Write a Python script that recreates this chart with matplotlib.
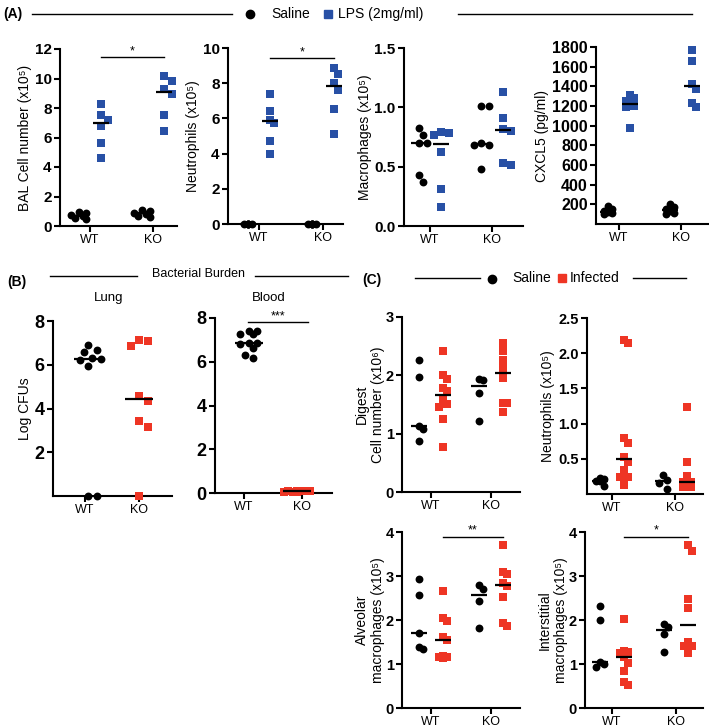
import numpy as np
import matplotlib
matplotlib.use('Agg')
import matplotlib.pyplot as plt

W, H = 709, 728
BLUE = '#2850A5'
RED = '#EE3524'
FAM = ['Liberation Sans', 'DejaVu Sans']
plt.rcParams['font.family'] = FAM

categories = ['WT', 'KO']

# ---- Panel A (Saline vs LPS) ----
bal_saline_wt = [0.95, 0.85, 0.75, 0.65, 0.55, 0.50]
bal_saline_ko = [1.10, 1.00, 0.90, 0.80, 0.70, 0.60]
bal_lps_wt = [8.26, 7.53, 7.19, 6.80, 5.60, 4.58]
bal_lps_ko = [10.14, 9.80, 9.28, 8.94, 7.51, 6.47]

neuA_saline_wt = [0.0, 0.0, 0.0, 0.0, 0.0, 0.0]
neuA_saline_ko = [0.0, 0.0, 0.0, 0.0, 0.0, 0.0]
neuA_lps_wt = [7.36, 6.42, 5.90, 5.75, 4.70, 3.98]
neuA_lps_ko = [8.85, 8.50, 8.02, 7.64, 6.53, 5.09]

mac_saline_wt = [0.83, 0.77, 0.70, 0.70, 0.43, 0.37]
mac_saline_ko = [1.01, 1.01, 0.70, 0.68, 0.68, 0.48]
mac_lps_wt = [0.79, 0.78, 0.77, 0.62, 0.31, 0.16]
mac_lps_ko = [1.13, 0.91, 0.82, 0.80, 0.53, 0.51]

cx_saline_wt = [180, 150, 130, 120, 110, 100]
cx_saline_ko = [200, 170, 150, 130, 115, 105]
cx_lps_wt = [1310, 1280, 1250, 1200, 1190, 980]
cx_lps_ko = [1766, 1654, 1427, 1376, 1231, 1190]

# ---- Panel B (bacterial burden, log CFUs) ----
lung_wt = [6.92, 6.69, 6.58, 6.30, 6.25, 6.22, 5.95, 0.0, 0.0]
lung_ko = [7.15, 7.08, 6.85, 4.55, 4.35, 3.43, 3.15, 0.0]
blood_wt = [7.41, 7.41, 7.29, 7.26, 6.86, 6.86, 6.80, 6.61, 6.30, 6.15]
blood_ko = [0.10, 0.10, 0.08, 0.08, 0.07, 0.06, 0.05, 0.05]

# ---- Panel C (Saline vs Infected) ----
dig_saline_wt = [2.27, 1.98, 1.13, 1.08, 0.88]
dig_inf_wt = [2.42, 2.00, 1.94, 1.79, 1.74, 1.60, 1.51, 1.45, 1.26, 0.78]
dig_saline_ko = [1.94, 1.92, 1.70, 1.22]
dig_inf_ko = [2.56, 2.42, 2.27, 2.13, 1.96, 1.52, 1.52, 1.37]

neuC_saline_wt = [0.23, 0.21, 0.19, 0.18, 0.11]
neuC_inf_wt = [2.19, 2.14, 0.79, 0.72, 0.53, 0.46, 0.34, 0.24, 0.24, 0.13]
neuC_saline_ko = [0.27, 0.20, 0.16, 0.07]
neuC_inf_ko = [1.24, 0.455, 0.25, 0.17, 0.17, 0.11, 0.10, 0.10]

alv_saline_wt = [2.94, 2.56, 1.70, 1.39, 1.33]
alv_inf_wt = [2.67, 2.04, 1.98, 1.61, 1.55, 1.19, 1.16, 1.15, 1.13]
alv_saline_ko = [2.80, 2.70, 2.44, 1.82]
alv_inf_ko = [3.71, 3.09, 3.05, 2.83, 2.78, 2.52, 1.93, 1.86]

int_saline_wt = [2.32, 2.00, 1.05, 1.00, 0.94]
int_inf_wt = [2.02, 1.30, 1.27, 1.25, 1.17, 1.02, 0.84, 0.58, 0.52]
int_saline_ko = [1.91, 1.85, 1.68, 1.28]
int_inf_ko = [3.70, 3.57, 2.47, 2.28, 1.51, 1.41, 1.41, 1.25]

fig = plt.figure(figsize=(W / 100, H / 100), dpi=100)


def px_axes(l, t, r, b):
    return fig.add_axes([l / W, 1 - b / H, (r - l) / W, (b - t) / H])


def swarm(ypx, d, maxw):
    step = d / 2.0
    cands = [0.0]
    k = 1
    while k * step <= maxw + 1e-9:
        cands += [k * step, -k * step]
        k += 1
    order = np.argsort(-ypx, kind='stable')
    offs = np.zeros(len(ypx))
    placed = []
    for i in order:
        best = None
        bestc, bestd = 0.0, -1
        for c in cands:
            if not placed:
                best = c
                break
            dist = min(np.hypot(c - px, ypx[i] - py) for px, py in placed)
            if dist >= d:
                best = c
                break
            if dist > bestd:
                bestd, bestc = dist, c
        if best is None:
            best = bestc
        offs[i] = best
        placed.append((best, ypx[i]))
    return offs


def panel(box, ylim, yticks, wt_px, ko_px, groups, ylabel, tick_fs=11,
          d=7.5, maxw=10.0, yfmt=None, label_fs=10, labelpad=2, medw=8):
    l, t, r, b = box
    ax = px_axes(l, t, r, b)
    unit = ko_px - wt_px
    ax.set_xlim(-(wt_px - l) / unit, 1 + (r - ko_px) / unit)
    ax.set_ylim(*ylim)
    yscale = (b - t) / (ylim[1] - ylim[0])
    for cat, off_px, vals, color, marker in groups:
        vals = np.asarray(vals, float)
        offs = swarm(vals * yscale, d, maxw)
        xs = cat + (off_px + offs) / unit
        s = 32 if marker == 'o' else 30
        ax.scatter(xs, vals, s=s, marker=marker, color=color, zorder=3,
                   clip_on=False, linewidths=0)
        med = np.median(vals)
        ax.plot([cat + (off_px - medw) / unit, cat + (off_px + medw) / unit],
                [med, med], color='black', lw=1.6, zorder=4,
                solid_capstyle='butt', clip_on=False)
    for sp in ['top', 'right']:
        ax.spines[sp].set_visible(False)
    for sp in ['left', 'bottom']:
        ax.spines[sp].set_linewidth(1.5)
    ax.set_xticks([0, 1])
    ax.set_xticklabels(categories, fontsize=9)
    ax.set_yticks(yticks)
    if yfmt is not None:
        ax.set_yticklabels([yfmt.format(v) for v in yticks])
    for lab in ax.get_yticklabels():
        lab.set_fontweight('bold')
        lab.set_fontsize(tick_fs)
    ax.tick_params(axis='both', direction='out', length=4, width=1.5, pad=2)
    ax.set_ylabel(ylabel, fontsize=label_fs, labelpad=labelpad)
    return ax


def sig(ax, x0, x1, y, text, fs=9):
    ax.plot([x0, x1], [y, y], color='black', lw=1.0, clip_on=False)
    ax.text((x0 + x1) / 2, y, text, ha='center', va='bottom', fontsize=fs)


oA = 11
# A1 BAL
a1 = panel((60, 49, 177, 226), (0, 12), [0, 2, 4, 6, 8, 10, 12], 90, 153,
           [(0, -oA, bal_saline_wt, 'black', 'o'), (0, oA, bal_lps_wt, BLUE, 's'),
            (1, -oA, bal_saline_ko, 'black', 'o'), (1, oA, bal_lps_ko, BLUE, 's')],
           'BAL Cell number (x10\u2075)', maxw=8)
sig(a1, oA / 63, 1 + oA / 63, 11.45, '*')
# A2 Neutrophils
a2 = panel((228, 48, 343, 224), (0, 10), [0, 2, 4, 6, 8, 10], 259, 323,
           [(0, -oA, neuA_saline_wt, 'black', 'o'), (0, oA, neuA_lps_wt, BLUE, 's'),
            (1, -oA, neuA_saline_ko, 'black', 'o'), (1, oA, neuA_lps_ko, BLUE, 's')],
           'Neutrophils (x10\u2075)', maxw=7)
sig(a2, oA / 64, 1 + oA / 64, 9.43, '*')
# A3 Macrophages
panel((404, 48, 523, 226), (0, 1.5), [0, 0.5, 1.0, 1.5], 430, 492,
      [(0, -oA, mac_saline_wt, 'black', 'o'), (0, oA, mac_lps_wt, BLUE, 's'),
       (1, -oA, mac_saline_ko, 'black', 'o'), (1, oA, mac_lps_ko, BLUE, 's')],
      'Macrophages (x10\u2075)', yfmt='{:.1f}', maxw=9)
# A4 CXCL5
panel((596, 47, 708, 224), (0, 1800), list(range(200, 1801, 200)), 619, 681,
      [(0, -oA, cx_saline_wt, 'black', 'o'), (0, oA, cx_lps_wt, BLUE, 's'),
       (1, -oA, cx_saline_ko, 'black', 'o'), (1, oA, cx_lps_ko, BLUE, 's')],
      'CXCL5 (pg/ml)', tick_fs=11.5, maxw=7)

# B1 Lung
b1 = panel((53, 321, 172, 496), (0, 8), [2, 4, 6, 8], 85, 139,
           [(0, 3, lung_wt, 'black', 'o'), (1, 0, lung_ko, RED, 's')],
           'Log CFUs', tick_fs=13, d=8.5, maxw=15, medw=14)
b1.text(0.47, 1.1, 'Lung', transform=b1.transAxes, ha='center', va='bottom', fontsize=9.5)
# B2 Blood
b2 = panel((215, 318, 332, 493), (0, 8), [0, 2, 4, 6, 8], 244, 302,
           [(0, 5, blood_wt, 'black', 'o'), (1, -5, blood_ko, RED, 's')],
           '', tick_fs=13, d=8.5, maxw=15, medw=14)
b2.text(0.46, 1.08, 'Blood', transform=b2.transAxes, ha='center', va='bottom', fontsize=9.5)
sig(b2, 0.07, 1.1, 7.81, '***', fs=9)

oC = 12
# C1 Digest
panel((402, 317, 520, 492), (0, 3), [0, 1, 2, 3], 431, 491,
      [(0, -oC, dig_saline_wt, 'black', 'o'), (0, oC, dig_inf_wt, RED, 's'),
       (1, -oC, dig_saline_ko, 'black', 'o'), (1, oC, dig_inf_ko, RED, 's')],
      'Digest\nCell number (x10\u2076)', tick_fs=10.5, maxw=5, labelpad=0)
# C2 Neutrophils
panel((587, 318, 703, 494), (0, 2.5), [0.5, 1.0, 1.5, 2.0, 2.5], 612, 675,
      [(0, -oC, neuC_saline_wt, 'black', 'o'), (0, oC, neuC_inf_wt, RED, 's'),
       (1, -oC, neuC_saline_ko, 'black', 'o'), (1, oC, neuC_inf_ko, RED, 's')],
      'Neutrophils (x10\u2075)', yfmt='{:.1f}', tick_fs=10.5, maxw=5)
# C3 Alveolar
c3 = panel((402, 532, 520, 708), (0, 4), [0, 1, 2, 3, 4], 431, 491,
           [(0, -oC, alv_saline_wt, 'black', 'o'), (0, oC, alv_inf_wt, RED, 's'),
            (1, -oC, alv_saline_ko, 'black', 'o'), (1, oC, alv_inf_ko, RED, 's')],
           'Alveolar\nmacrophages (x10\u2075)', tick_fs=10.5, maxw=5, labelpad=0)
sig(c3, oC / 60, 1 + oC / 60, 3.89, '**')
# C4 Interstitial
c4 = panel((585, 532, 703, 708), (0, 4), [0, 1, 2, 3, 4], 612, 676,
           [(0, -oC, int_saline_wt, 'black', 'o'), (0, oC, int_inf_wt, RED, 's'),
            (1, -oC, int_saline_ko, 'black', 'o'), (1, oC, int_inf_ko, RED, 's')],
           'Interstitial\nmacrophages (x10\u2075)', tick_fs=10.5, maxw=5, labelpad=0)
sig(c4, oC / 64, 1 + oC / 64, 3.89, '*')

# ---- header decorations (pixel overlay) ----
ov = fig.add_axes([0, 0, 1, 1], zorder=-1)
ov.set_xlim(0, W)
ov.set_ylim(H, 0)
ov.axis('off')
ov.patch.set_alpha(0)

ov.text(3, 14, '(A)', fontsize=10, fontweight='bold', va='center', ha='left')
ov.plot([32, 232], [14, 14], color='black', lw=1.0)
ov.plot([250], [14], 'o', color='black', ms=6)
ov.text(271, 14, 'Saline', fontsize=10, va='center', ha='left')
ov.plot([328], [14], 's', color=BLUE, ms=5.5)
ov.text(338, 14, 'LPS (2mg/ml)', fontsize=10, va='center', ha='left')
ov.plot([458, 692], [14, 14], color='black', lw=1.0)

ov.text(7, 282, '(B)', fontsize=10, fontweight='bold', va='center', ha='left')
ov.plot([50, 137], [276, 276], color='black', lw=1.0)
ov.text(198, 274, 'Bacterial Burden', fontsize=9, va='center', ha='center')
ov.plot([255, 348], [276, 276], color='black', lw=1.0)

ov.text(362, 280, '(C)', fontsize=10, fontweight='bold', va='center', ha='left')
ov.plot([415, 480], [278, 278], color='black', lw=1.0)
ov.plot([492], [279], 'o', color='black', ms=6)
ov.text(512, 278, 'Saline', fontsize=10, va='center', ha='left')
ov.plot([562], [278], 's', color=RED, ms=5.5)
ov.text(570, 278, 'Infected', fontsize=10, va='center', ha='left')
ov.plot([633, 686], [278, 278], color='black', lw=1.0)

fig.savefig('out.png', dpi=100)
